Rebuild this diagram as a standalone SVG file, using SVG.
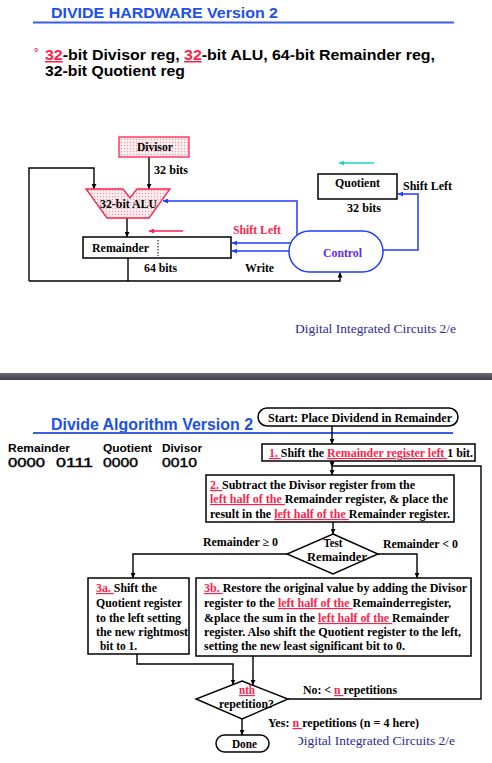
<svg xmlns="http://www.w3.org/2000/svg" width="492" height="763" viewBox="0 0 492 763">
<style>
.ar{font-family:"Liberation Sans",Arial,sans-serif;font-weight:bold}
.tm{font-family:"Liberation Serif","Times New Roman",serif;font-weight:bold;fill:#000}
.ft{font-size:11.5px}
.hw{font-size:11.5px}
.r{fill:#ff1f4b}
.u{text-decoration:underline}
.blk{fill:none;stroke:#000;stroke-width:1.4}
.blu{fill:none;stroke:#1f3cff;stroke-width:1.5}
.box{fill:#fff;stroke:#000;stroke-width:1.5}
.dic{font-family:"Liberation Serif","Times New Roman",serif;font-size:13px;fill:#2b2b95}
</style>
<defs>
<marker id="ak" viewBox="0 0 10 10" refX="10" refY="5" markerWidth="5" markerHeight="5" markerUnits="userSpaceOnUse" orient="auto"><path d="M0,0L10,5L0,10z" fill="#000"/></marker>
<marker id="ab" viewBox="0 0 10 10" refX="10" refY="5" markerWidth="5" markerHeight="5" markerUnits="userSpaceOnUse" orient="auto"><path d="M0,0L10,5L0,10z" fill="#1f3cff"/></marker>
<marker id="ar" viewBox="0 0 10 10" refX="10" refY="5" markerWidth="5" markerHeight="5" markerUnits="userSpaceOnUse" orient="auto"><path d="M0,0L10,5L0,10z" fill="#ff1f4b"/></marker>
<marker id="ac" viewBox="0 0 10 10" refX="10" refY="5" markerWidth="5" markerHeight="5" markerUnits="userSpaceOnUse" orient="auto"><path d="M0,0L10,5L0,10z" fill="#22d3c5"/></marker>
<pattern id="dots" width="3" height="3" patternUnits="userSpaceOnUse"><rect width="3" height="3" fill="#fdeef0"/><circle cx="1.5" cy="1.5" r="0.7" fill="#f09aa8"/></pattern>
<linearGradient id="bar" x1="0" y1="0" x2="0" y2="1"><stop offset="0" stop-color="#6b6e71"/><stop offset="1" stop-color="#3b3d40"/></linearGradient>
<clipPath id="clipd"><rect x="298" y="730" width="194" height="25"/></clipPath>
</defs>

<!-- Top slide headings -->
<g id="title1">
<text class="ar" x="51" y="18" font-size="15.5" fill="#2050e6" textLength="227" lengthAdjust="spacingAndGlyphs">DIVIDE HARDWARE Version 2</text>
<rect x="33" y="21.5" width="421" height="2" fill="#3a5ee8"/>
</g>
<g id="bullet">
<text class="ar" x="34" y="56" font-size="11" fill="#ff1f4b">°</text>
<text class="ar" x="45" y="60" font-size="15" fill="#000" textLength="390" lengthAdjust="spacingAndGlyphs"><tspan class="r u">32</tspan>-bit Divisor reg, <tspan class="r u">32</tspan>-bit ALU, 64-bit Remainder reg,</text>
<text class="ar" x="45" y="76" font-size="15" fill="#000" textLength="140" lengthAdjust="spacingAndGlyphs">32-bit Quotient reg</text>
</g>

<!-- Hardware connectors -->
<g id="hw-connectors">
<line class="blk" x1="149" y1="157" x2="149" y2="189" marker-end="url(#ak)"/>
<path class="blk" d="M29,281 L29,168 L94,168 L94,189" marker-end="url(#ak)"/>
<path class="blk" d="M29,281 L340,281 L340,272.5" marker-end="url(#ak)"/>
<line class="blk" x1="128" y1="258" x2="128" y2="281"/>
<line class="blk" x1="127" y1="218" x2="127" y2="237" marker-end="url(#ak)"/>
<line x1="183" y1="231" x2="149" y2="231" stroke="#ff1f4b" stroke-width="1.3" marker-end="url(#ar)"/>
<path class="blu" d="M297,235.5 L297,201 L163,201" marker-end="url(#ab)"/>
<line class="blu" x1="291" y1="243" x2="232" y2="243" marker-end="url(#ab)"/>
<line class="blu" x1="289" y1="251" x2="232" y2="251" marker-end="url(#ab)"/>
<path class="blu" d="M383,250 L418,250 L418,194 L398,194" marker-end="url(#ab)"/>
<line x1="374" y1="163" x2="339" y2="163" stroke="#22d3c5" stroke-width="1.3" marker-end="url(#ac)"/>
</g>

<!-- Hardware nodes -->
<g id="divisor">
<rect x="119" y="137" width="70" height="20" fill="url(#dots)" stroke="#ff1f4b" stroke-width="1.3"/>
<text class="tm hw" x="137" y="151" textLength="36" lengthAdjust="spacingAndGlyphs">Divisor</text>
<text class="tm hw" x="154" y="174" font-size="12" textLength="34" lengthAdjust="spacingAndGlyphs">32 bits</text>
</g>
<g id="alu">
<polygon points="86,189 123,189 130,198 137,189 170,189 149,218 107,218" fill="url(#dots)" stroke="#ff1f4b" stroke-width="1.3"/>
<text class="tm hw" x="100" y="208" textLength="57" lengthAdjust="spacingAndGlyphs">32-bit ALU</text>
</g>
<g id="remainder">
<rect class="box" x="83" y="237" width="148" height="21"/>
<line x1="158" y1="240" x2="158" y2="256" stroke="#000" stroke-width="1" stroke-dasharray="1.5,1.5"/>
<text class="tm hw" x="92" y="252" textLength="57" lengthAdjust="spacingAndGlyphs">Remainder</text>
<text class="tm hw" x="144" y="272" textLength="33" lengthAdjust="spacingAndGlyphs">64 bits</text>
</g>
<g id="control">
<rect x="289" y="231" width="94" height="41" rx="20.5" fill="#fff" stroke="#1f3cff" stroke-width="1.5"/>
<text class="tm hw" x="323" y="257" style="fill:#5a2df0" textLength="39" lengthAdjust="spacingAndGlyphs">Control</text>
<text class="tm hw" x="233" y="234" style="fill:#ff1f4b" textLength="48" lengthAdjust="spacingAndGlyphs">Shift Left</text>
<text class="tm hw" x="245" y="272" textLength="29" lengthAdjust="spacingAndGlyphs">Write</text>
</g>
<g id="quotient">
<rect class="box" x="318" y="174" width="79" height="25"/>
<text class="tm hw" x="335" y="187" textLength="45" lengthAdjust="spacingAndGlyphs">Quotient</text>
<text class="tm hw" x="347" y="212" textLength="34" lengthAdjust="spacingAndGlyphs">32 bits</text>
<text class="tm hw" x="403" y="190" textLength="49" lengthAdjust="spacingAndGlyphs">Shift Left</text>
</g>
<text class="dic" x="295" y="333" textLength="161" lengthAdjust="spacingAndGlyphs">Digital Integrated Circuits 2/e</text>

<!-- Separator -->
<rect x="0" y="373" width="492" height="7" fill="url(#bar)"/>

<!-- Bottom slide -->
<g id="title2">
<text class="ar" x="51" y="430" font-size="16" fill="#2050e6" textLength="202" lengthAdjust="spacingAndGlyphs">Divide Algorithm Version 2</text>
<rect x="33" y="432" width="420" height="2" fill="#3a5ee8"/>
</g>
<g id="values">
<text class="ar" x="8" y="452" font-size="11.5" fill="#000" textLength="62" lengthAdjust="spacingAndGlyphs">Remainder</text>
<text class="ar" x="103" y="452" font-size="11.5" fill="#000" textLength="49" lengthAdjust="spacingAndGlyphs">Quotient</text>
<text class="ar" x="162" y="452" font-size="11.5" fill="#000" textLength="40" lengthAdjust="spacingAndGlyphs">Divisor</text>
<g font-family="'Liberation Sans',Arial,sans-serif" font-size="12.5" fill="#000" stroke="#000" stroke-width="0.4">
<text x="8" y="467" textLength="37" lengthAdjust="spacingAndGlyphs">0000</text>
<text x="56" y="467" textLength="37" lengthAdjust="spacingAndGlyphs">0111</text>
<text x="103" y="467" textLength="35" lengthAdjust="spacingAndGlyphs">0000</text>
<text x="162" y="467" textLength="35" lengthAdjust="spacingAndGlyphs">0010</text>
</g>
</g>

<!-- Flowchart connectors -->
<g id="flow-connectors">
<line class="blk" x1="332" y1="426" x2="332" y2="444" marker-end="url(#ak)"/>
<line class="blk" x1="332" y1="461" x2="332" y2="467" marker-end="url(#ak)"/>
<line class="blk" x1="332" y1="467" x2="332" y2="475" marker-end="url(#ak)"/>
<path class="blk" d="M288,699 L481,699 L481,466 L332,466"/>
<line class="blk" x1="333" y1="522" x2="333" y2="534" marker-end="url(#ak)"/>
<path class="blk" d="M287,554 L133,554 L133,578" marker-end="url(#ak)"/>
<path class="blk" d="M378,554 L417,554 L417,578" marker-end="url(#ak)"/>
<path class="blk" d="M137,654 L137,664 L233,664 L233,684.5" marker-end="url(#ak)"/>
<line class="blk" x1="253" y1="656" x2="253" y2="685" marker-end="url(#ak)"/>
<line class="blk" x1="242" y1="719" x2="242" y2="735" marker-end="url(#ak)"/>
</g>

<!-- Flowchart nodes -->
<g id="start">
<rect class="box" x="258" y="408" width="200" height="18" rx="9"/>
<text class="tm ft" x="268" y="422" textLength="184" lengthAdjust="spacingAndGlyphs">Start: Place Dividend in Remainder</text>
</g>
<g id="step1">
<rect class="box" x="262" y="444" width="213" height="17"/>
<text class="tm ft" x="269" y="457" textLength="204" lengthAdjust="spacingAndGlyphs"><tspan class="r u">1. </tspan>Shift the <tspan class="r u">Remainder register left </tspan>1 bit.</text>
</g>
<g id="step2">
<rect class="box" x="206" y="475" width="248" height="47"/>
<text class="tm ft" x="210" y="489" textLength="205" lengthAdjust="spacingAndGlyphs"><tspan class="r u">2. </tspan>Subtract the Divisor register from the</text>
<text class="tm ft" x="210" y="503" textLength="238" lengthAdjust="spacingAndGlyphs"><tspan class="r u">left half of the </tspan>Remainder register, &amp; place the</text>
<text class="tm ft" x="210" y="518" textLength="240" lengthAdjust="spacingAndGlyphs">result in the <tspan class="r u">left half of the </tspan>Remainder register.</text>
</g>
<g id="test">
<polygon points="333,534 378,554 333,574 287,554" fill="#fff" stroke="#000" stroke-width="1.4"/>
<text class="tm ft" x="333" y="547" text-anchor="middle" textLength="19" lengthAdjust="spacingAndGlyphs">Test</text>
<text class="tm ft" x="307" y="561" textLength="60" lengthAdjust="spacingAndGlyphs">Remainder</text>
<text class="tm ft" x="203" y="546" textLength="75" lengthAdjust="spacingAndGlyphs">Remainder ≥ 0</text>
<text class="tm ft" x="383" y="548" textLength="75" lengthAdjust="spacingAndGlyphs">Remainder &lt; 0</text>
</g>
<g id="step3a">
<rect class="box" x="88" y="578" width="101" height="76"/>
<text class="tm ft" x="96" y="592" textLength="61" lengthAdjust="spacingAndGlyphs"><tspan class="r u">3a. </tspan>Shift the</text>
<text class="tm ft" x="96" y="607" textLength="86" lengthAdjust="spacingAndGlyphs">Quotient register</text>
<text class="tm ft" x="96" y="622" textLength="85" lengthAdjust="spacingAndGlyphs">to the left setting</text>
<text class="tm ft" x="96" y="636" textLength="92" lengthAdjust="spacingAndGlyphs">the new rightmost</text>
<text class="tm ft" x="100" y="650" textLength="37" lengthAdjust="spacingAndGlyphs">bit to 1.</text>
</g>
<g id="step3b">
<rect class="box" x="196" y="578" width="275" height="78"/>
<text class="tm ft" x="204" y="592" textLength="263" lengthAdjust="spacingAndGlyphs"><tspan class="r u">3b. </tspan>Restore the original value by adding the Divisor</text>
<text class="tm ft" x="204" y="607" textLength="247" lengthAdjust="spacingAndGlyphs">register to the <tspan class="r u">left half of the </tspan>Remainderregister,</text>
<text class="tm ft" x="204" y="622" textLength="245" lengthAdjust="spacingAndGlyphs">&amp;place the sum in the <tspan class="r u">left half of the </tspan>Remainder</text>
<text class="tm ft" x="204" y="636" textLength="257" lengthAdjust="spacingAndGlyphs">register. Also shift the Quotient register to the left,</text>
<text class="tm ft" x="204" y="650" textLength="201" lengthAdjust="spacingAndGlyphs">setting the new least significant bit to 0.</text>
</g>
<g id="nth">
<polygon points="242,681 288,699 242,719 196,699" fill="#fff" stroke="#000" stroke-width="1.4"/>
<text class="tm ft" x="239" y="694" textLength="16" lengthAdjust="spacingAndGlyphs"><tspan class="r u">nth</tspan></text>
<text class="tm ft" x="219" y="708" textLength="55" lengthAdjust="spacingAndGlyphs">repetition?</text>
<text class="tm ft" x="303" y="694" textLength="94" lengthAdjust="spacingAndGlyphs">No: &lt; <tspan class="r u">n </tspan>repetitions</text>
<text class="tm ft" x="268" y="727" textLength="151" lengthAdjust="spacingAndGlyphs">Yes: <tspan class="r u">n </tspan>repetitions (n = 4 here)</text>
</g>
<g id="done">
<rect class="box" x="216" y="735" width="53" height="17" rx="8.5"/>
<text class="tm ft" x="232" y="748" textLength="25" lengthAdjust="spacingAndGlyphs">Done</text>
</g>
<text class="dic" x="294" y="745" clip-path="url(#clipd)" textLength="161" lengthAdjust="spacingAndGlyphs">Digital Integrated Circuits 2/e</text>
</svg>
